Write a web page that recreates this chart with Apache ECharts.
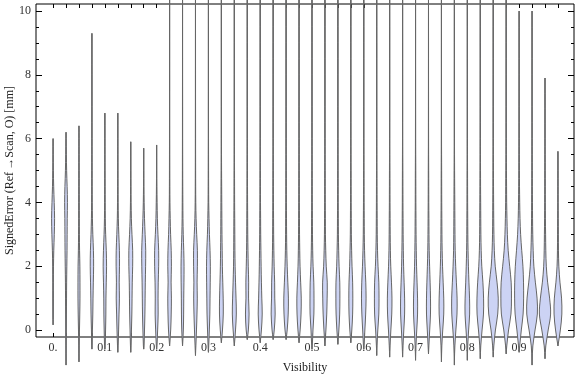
<!DOCTYPE html>
<html>
<head>
<meta charset="utf-8">
<script src="https://cdn.jsdelivr.net/npm/echarts@6/dist/echarts.min.js"></script>
<style>
    html, body { margin: 0; padding: 0; background: #fff; }
    #chart { width: 576px; height: 377px; }
</style>
</head>
<body>
<div id="chart"></div>
<script>
// violin positions (visibility bins)
var visibility = [0, 0.025, 0.05, 0.075, 0.1, 0.125, 0.15, 0.175, 0.2, 0.225,
    0.25, 0.275, 0.3, 0.325, 0.35, 0.375, 0.4, 0.425, 0.45, 0.475,
    0.5, 0.525, 0.55, 0.575, 0.6, 0.625, 0.65, 0.675, 0.7, 0.725,
    0.75, 0.775, 0.8, 0.825, 0.85, 0.875, 0.9, 0.925, 0.95, 0.975];

// smallest / largest signed error per bin (mm)
var minVals = [0.16, -1.1, -1.0, -0.6, -0.6, -0.7, -0.7, -0.6, -0.6, -0.5,
    -0.5, -0.8, -0.7, -0.4, -0.5, -0.3, -0.4, -0.3, -0.3, -0.4,
    -0.6, -0.5, -0.45, -0.4, -0.6, -0.8, -0.85, -0.85, -0.95, -0.75,
    -1.0, -1.1, -0.95, -0.9, -0.85, -0.75, -0.7, -1.1, -0.9, -0.5];
var maxVals = [6.0, 6.2, 6.4, 9.3, 6.8, 6.8, 5.9, 5.7, 5.8, 12,
    12, 12, 12, 12, 12, 12, 12, 12, 12, 12,
    12, 12, 12, 12, 12, 12, 12, 12, 12, 12,
    12, 12, 12, 12, 12, 12, 10.0, 10.0, 7.9, 5.6];

// estimated density (relative) at these signed error levels
var yGrid = [-1, -0.5, 0, 0.5, 1, 1.5, 2, 2.5, 3, 3.5, 4, 4.5, 5, 6, 8];
var density = [
    [0, 0, 0.1, 0.2, 0.3, 0.3, 0.4, 0.7, 1.2, 1.5, 1.1, 0.6, 0.3, 0.05, 0],
    [0, 0.2, 0.3, 0.4, 0.5, 0.6, 0.8, 1.0, 1.1, 1.2, 1.4, 1.1, 0.6, 0.1, 0],
    [0, 0.2, 0.5, 0.8, 1.0, 1.0, 0.9, 0.6, 0.4, 0.3, 0.3, 0.2, 0.2, 0.1, 0],
    [0, 0.2, 0.5, 0.9, 1.1, 1.4, 1.7, 1.5, 0.9, 0.5, 0.3, 0.2, 0.2, 0.1, 0.05],
    [0, 0.3, 0.7, 1.0, 1.1, 1.4, 1.7, 1.4, 0.8, 0.4, 0.3, 0.2, 0.1, 0.05, 0],
    [0, 0.3, 0.8, 1.2, 1.6, 1.4, 1.7, 1.6, 1.0, 0.5, 0.3, 0.2, 0.1, 0.05, 0],
    [0, 0.3, 0.7, 1.1, 1.3, 1.5, 1.9, 1.9, 1.2, 0.6, 0.3, 0.2, 0.1, 0, 0],
    [0, 0.3, 0.8, 1.2, 1.4, 1.6, 1.9, 2.0, 1.4, 0.8, 0.4, 0.2, 0.1, 0, 0],
    [0, 0.3, 1.0, 1.5, 1.4, 1.6, 2.0, 2.0, 1.3, 0.7, 0.4, 0.2, 0.1, 0, 0],
    [0, 0.4, 1.1, 1.6, 1.8, 1.5, 1.8, 1.6, 1.0, 0.6, 0.3, 0.2, 0.15, 0.1, 0.05],
    [0, 0.3, 0.8, 1.1, 1.2, 1.4, 1.5, 1.2, 0.7, 0.4, 0.3, 0.2, 0.15, 0.1, 0.05],
    [0, 0.4, 1.0, 1.5, 1.8, 1.6, 1.9, 1.9, 1.2, 0.6, 0.3, 0.2, 0.15, 0.1, 0.05],
    [0, 0.3, 0.9, 1.4, 1.6, 1.8, 1.9, 1.6, 1.0, 0.6, 0.3, 0.2, 0.15, 0.1, 0.05],
    [0, 0.3, 1.1, 1.9, 1.8, 1.4, 1.0, 0.8, 0.6, 0.5, 0.4, 0.3, 0.2, 0.1, 0.05],
    [0, 0.3, 1.2, 2.0, 1.7, 1.2, 0.8, 0.6, 0.5, 0.4, 0.3, 0.25, 0.2, 0.1, 0.05],
    [0, 0.3, 1.1, 1.8, 1.3, 1.4, 1.0, 0.7, 0.5, 0.4, 0.3, 0.25, 0.2, 0.1, 0.05],
    [0, 0.3, 1.2, 2.0, 1.6, 1.2, 0.9, 0.7, 0.5, 0.4, 0.3, 0.25, 0.2, 0.1, 0.05],
    [0, 0.3, 1.1, 2.0, 1.6, 1.5, 1.0, 0.7, 0.5, 0.4, 0.3, 0.25, 0.2, 0.1, 0.05],
    [0, 0.3, 1.1, 2.1, 2.3, 1.7, 1.1, 0.7, 0.5, 0.4, 0.3, 0.25, 0.2, 0.1, 0.05],
    [0, 0.3, 1.1, 2.0, 2.2, 1.6, 1.0, 0.7, 0.5, 0.4, 0.3, 0.25, 0.2, 0.1, 0.05],
    [0, 0.3, 1.0, 1.9, 2.0, 1.8, 1.1, 0.7, 0.5, 0.4, 0.3, 0.25, 0.2, 0.1, 0.05],
    [0, 0.3, 1.0, 1.8, 2.2, 2.3, 1.3, 0.8, 0.5, 0.4, 0.3, 0.25, 0.2, 0.1, 0.05],
    [0, 0.3, 1.0, 1.8, 2.0, 1.9, 1.2, 0.8, 0.5, 0.4, 0.3, 0.25, 0.2, 0.1, 0.05],
    [0, 0.3, 1.0, 1.8, 2.0, 1.8, 1.2, 0.8, 0.5, 0.4, 0.3, 0.25, 0.2, 0.1, 0.05],
    [0, 0.3, 1.1, 1.9, 2.3, 2.0, 1.3, 0.8, 0.5, 0.4, 0.3, 0.25, 0.2, 0.1, 0.05],
    [0, 0.3, 1.1, 2.1, 2.3, 2.1, 1.3, 0.8, 0.5, 0.4, 0.3, 0.25, 0.2, 0.1, 0.05],
    [0, 0.4, 1.2, 2.1, 2.3, 1.8, 1.1, 0.7, 0.5, 0.4, 0.3, 0.25, 0.2, 0.1, 0.05],
    [0, 0.4, 1.2, 2.0, 2.0, 1.5, 1.0, 0.7, 0.5, 0.4, 0.3, 0.25, 0.2, 0.1, 0.05],
    [0, 0.4, 1.2, 2.0, 2.0, 1.5, 1.0, 0.7, 0.5, 0.4, 0.3, 0.25, 0.2, 0.1, 0.05],
    [0, 0.4, 1.2, 2.0, 2.0, 1.6, 1.1, 0.7, 0.5, 0.4, 0.3, 0.25, 0.2, 0.1, 0.05],
    [0, 0.4, 1.3, 2.3, 2.3, 1.7, 1.1, 0.7, 0.5, 0.4, 0.3, 0.25, 0.2, 0.1, 0.05],
    [0, 0.5, 1.5, 2.6, 2.7, 2.0, 1.3, 0.8, 0.6, 0.5, 0.4, 0.3, 0.2, 0.1, 0.05],
    [0, 0.4, 1.3, 2.3, 2.2, 1.6, 1.1, 0.7, 0.5, 0.4, 0.3, 0.25, 0.2, 0.1, 0.05],
    [0, 0.5, 1.8, 3.2, 3.3, 2.6, 1.5, 0.9, 0.6, 0.5, 0.4, 0.3, 0.25, 0.15, 0.05],
    [0, 0.6, 2.2, 4.5, 5.0, 3.8, 2.0, 1.1, 0.7, 0.5, 0.4, 0.3, 0.25, 0.15, 0.05],
    [0, 0.6, 2.4, 4.8, 5.3, 5.0, 3.5, 2.0, 1.2, 0.8, 0.5, 0.4, 0.3, 0.15, 0.05],
    [0, 0.6, 2.2, 4.0, 4.5, 4.4, 3.8, 2.6, 1.5, 0.9, 0.6, 0.4, 0.3, 0.15, 0.05],
    [0, 0.8, 3.0, 5.3, 5.0, 3.3, 1.8, 1.1, 0.7, 0.5, 0.4, 0.3, 0.25, 0.15, 0.05],
    [0, 0.8, 3.2, 5.6, 4.6, 2.6, 1.3, 0.8, 0.6, 0.4, 0.3, 0.25, 0.2, 0.1, 0.05],
    [0, 0.6, 2.4, 3.9, 3.6, 2.0, 0.9, 0.5, 0.4, 0.3, 0.2, 0.15, 0.1, 0, 0]
];

// tick labels / tick positions
var xLabelValues = [0, 0.1, 0.2, 0.3, 0.4, 0.5, 0.6, 0.7, 0.8, 0.9];
var yMajor = [0, 2, 4, 6, 8, 10];
var yMinor = [0.5, 1, 1.5, 2.5, 3, 3.5, 4.5, 5, 5.5, 6.5, 7, 7.5, 8.5, 9, 9.5];

var FONT = 'Liberation Serif';
var DENS_PX = 1; // px of half width per unit of density

function renderViolin(params, api) {
    var i = params.dataIndex;
    var x = api.value(0);
    var lo = api.value(1);
    var hi = api.value(2);
    var d = density[i];
    var prof = [[lo, 0]];
    for (var k = 0; k < yGrid.length; k++) {
        if (yGrid[k] > lo && yGrid[k] < hi) {
            prof.push([yGrid[k], d[k]]);
        }
    }
    prof.push([hi, 0]);
    var left = [], right = [];
    prof.forEach(function (p) {
        var c = api.coord([x, p[0]]);
        left.push([c[0] - p[1] * DENS_PX, c[1]]);
        right.unshift([c[0] + p[1] * DENS_PX, c[1]]);
    });
    var bot = api.coord([x, lo]);
    var top = api.coord([x, hi]);
    return {
        type: 'group',
        children: [
            {
                type: 'line',
                shape: { x1: bot[0], y1: bot[1], x2: top[0], y2: top[1] },
                style: { stroke: '#666', lineWidth: 1 }
            },
            {
                type: 'polygon',
                shape: { points: left.concat(right), smooth: 0.35 },
                style: { fill: '#ccd3f4', stroke: '#666', lineWidth: 1 }
            }
        ]
    };
}

// one axis per frame side / tick set; the frame itself is the grid border
function frameAxis(pos, extra) {
    var base = {
        type: 'value',
        position: pos,
        splitLine: { show: false },
        axisLine: { show: false, onZero: false },
        axisLabel: { show: false },
        axisTick: { show: false }
    };
    return Object.assign(base, extra);
}

function ticks(len, values) {
    return { show: true, inside: true, length: len, customValues: values, lineStyle: { color: '#000', width: 1 } };
}

var xRange = { min: -0.033, max: 1.006 };
var yRange = { min: -0.22, max: 10.22 };

var chart = echarts.init(document.getElementById('chart'), null, { renderer: 'canvas' });
chart.setOption({
    animation: false,
    backgroundColor: '#fff',
    grid: {
        left: 36, right: 2, top: 4, bottom: 40,
        outerBoundsMode: 'none',
        containLabel: false,
        show: true,
        borderColor: '#000',
        borderWidth: 1,
        backgroundColor: 'transparent'
    },
    xAxis: [
        frameAxis('bottom', Object.assign({
            axisTick: ticks(4, visibility),
            axisLabel: {
                show: true,
                customValues: xLabelValues,
                margin: 5,
                fontFamily: FONT,
                fontSize: 12,
                color: '#333',
                formatter: function (v) { return v === 0 ? '0.' : v.toFixed(1); }
            },
            name: 'Visibility',
            nameLocation: 'middle',
            nameGap: 25,
            nameMoveOverlap: false,
            nameTextStyle: { fontFamily: FONT, fontSize: 12, color: '#222' }
        }, xRange)),
        frameAxis('top', Object.assign({ axisTick: ticks(4, visibility) }, xRange))
    ],
    yAxis: [
        frameAxis('left', Object.assign({
            axisTick: ticks(6, yMajor),
            axisLabel: {
                show: true,
                customValues: yMajor,
                margin: 5,
                fontFamily: FONT,
                fontSize: 12,
                color: '#333'
            },
            name: 'SignedError (Ref\u2009\u2192Scan, O) [mm]',
            nameLocation: 'middle',
            nameGap: 20,
            nameMoveOverlap: false,
            nameTextStyle: { fontFamily: FONT, fontSize: 12, color: '#222' }
        }, yRange)),
        frameAxis('right', Object.assign({ axisTick: ticks(6, yMajor) }, yRange)),
        frameAxis('left', Object.assign({ axisTick: ticks(3, yMinor) }, yRange)),
        frameAxis('right', Object.assign({ axisTick: ticks(3, yMinor) }, yRange))
    ],
    series: [
        {
            type: 'custom',
            xAxisIndex: 0,
            yAxisIndex: 0,
            clip: false,
            renderItem: renderViolin,
            encode: { x: 0, y: [1, 2] },
            data: visibility.map(function (v, i) { return [v, minVals[i], maxVals[i]]; })
        }
    ]
});
</script>
</body>
</html>
